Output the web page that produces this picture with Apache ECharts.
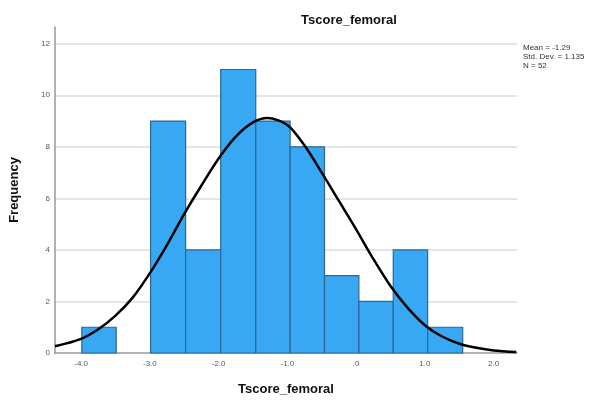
<html>
<head>
	<meta http-equiv="Content-Type" content="text/html; charset=UTF-8">
	<title>Tscore_femoral</title>
	<style>
		html, body { margin: 0; padding: 0; background: #fff; }
		#hist { width: 607px; height: 401px; }
	</style>
</head>
<body>
	<div id="hist"></div>

	<script type="text/javascript" src="https://cdn.jsdelivr.net/npm/echarts@6/dist/echarts.min.js"></script>
	<script type="text/javascript">

	// histogram bins (edges) and frequencies
	var binEdges = [-3.99, -3.49, -2.99, -2.48, -1.97, -1.46, -0.96, -0.46, 0.04, 0.54, 1.04, 1.55];
	var counts = [1, 0, 9, 4, 11, 9, 8, 3, 2, 4, 1];

	// normal curve, points
	var curveX = [-4.38, -4.0, -3.75, -3.5, -3.25, -3.0, -2.75, -2.5, -2.25, -2.0, -1.75, -1.5, -1.29,
	              -1.0, -0.75, -0.5, -0.25, 0.0, 0.25, 0.5, 0.75, 1.0, 1.25, 1.5, 1.75, 2.0, 2.33];
	var curveY = [0.26, 0.55, 0.92, 1.45, 2.15, 3.1, 4.2, 5.4, 6.5, 7.55, 8.4, 8.95, 9.12,
	              8.85, 8.05, 7.0, 5.9, 4.8, 3.65, 2.6, 1.75, 1.08, 0.64, 0.36, 0.2, 0.1, 0.04];

	var xTicks = [-4, -3, -2, -1, 0, 1, 2];
	var statLines = ['Mean = -1.29', 'Std. Dev. = 1.135', 'N = 52'];

	var barData = [];
	for (var i = 0; i < counts.length; i++) {
		if (counts[i] > 0) barData.push([binEdges[i], binEdges[i + 1], counts[i]]);
	}
	var lineData = [];
	for (var i = 0; i < curveX.length; i++) {
		lineData.push([curveX[i], curveY[i]]);
	}

	var chart = echarts.init(document.getElementById('hist'));

	var option = {
		animation: false,
		title: {
			text: 'Tscore_femoral',
			left: 296,
			top: 9,
			textStyle: { fontFamily: 'Liberation Sans', fontWeight: 'bold', fontSize: 13, color: '#111' }
		},
		grid: { left: 54, right: 90, top: 27, bottom: 45 },
		xAxis: {
			type: 'value',
			min: -4.38,
			max: 2.34,
			name: 'Tscore_femoral',
			nameLocation: 'middle',
			nameGap: 30,
			nameTextStyle: { fontFamily: 'Liberation Sans', fontWeight: 'bold', fontSize: 13, color: '#111' },
			axisLine: { onZero: false, lineStyle: { color: '#999', width: 1.5 } },
			axisTick: { show: false },
			splitLine: { show: false },
			axisLabel: {
				customValues: xTicks,
				margin: 7,
				fontFamily: 'Liberation Sans',
				fontSize: 8,
				color: '#555',
				formatter: function (v) {
					return v.toFixed(1).replace(/^0\./, '.');
				}
			}
		},
		yAxis: {
			type: 'value',
			min: 0,
			max: 12.65,
			interval: 2,
			name: 'Frequency',
			nameLocation: 'middle',
			nameGap: 34,
			nameTextStyle: { fontFamily: 'Liberation Sans', fontWeight: 'bold', fontSize: 13, color: '#111' },
			axisLine: { show: true, onZero: false, lineStyle: { color: '#999', width: 1.5 } },
			axisTick: { show: false },
			axisLabel: { showMaxLabel: false, margin: 5, fontFamily: 'Liberation Sans', fontSize: 8, color: '#555' },
			splitLine: { showMaxLine: false, showMinLine: false, lineStyle: { color: '#dcdcdc', width: 1.5 } }
		},
		graphic: statLines.map(function (t, i) {
			return {
				type: 'text',
				left: 523,
				top: 44 + i * 9,
				style: { text: t, font: '8px "Liberation Sans"', fill: '#333' }
			};
		}),
		series: [
			{
				type: 'custom',
				data: barData,
				encode: { x: [0, 1], y: 2 },
				renderItem: function (params, api) {
					var p0 = api.coord([api.value(0), api.value(2)]);
					var p1 = api.coord([api.value(1), 0]);
					return {
						type: 'rect',
						shape: { x: p0[0], y: p0[1], width: p1[0] - p0[0], height: p1[1] - p0[1] },
						style: { fill: '#38a8f4', stroke: '#2f6690', lineWidth: 1.2 }
					};
				},
				z: 2
			},
			{
				type: 'line',
				data: lineData,
				smooth: 0.3,
				symbol: 'none',
				lineStyle: { color: '#000', width: 2.5 },
				z: 3
			}
		]
	};

	chart.setOption(option);
	</script>
</body>
</html>
